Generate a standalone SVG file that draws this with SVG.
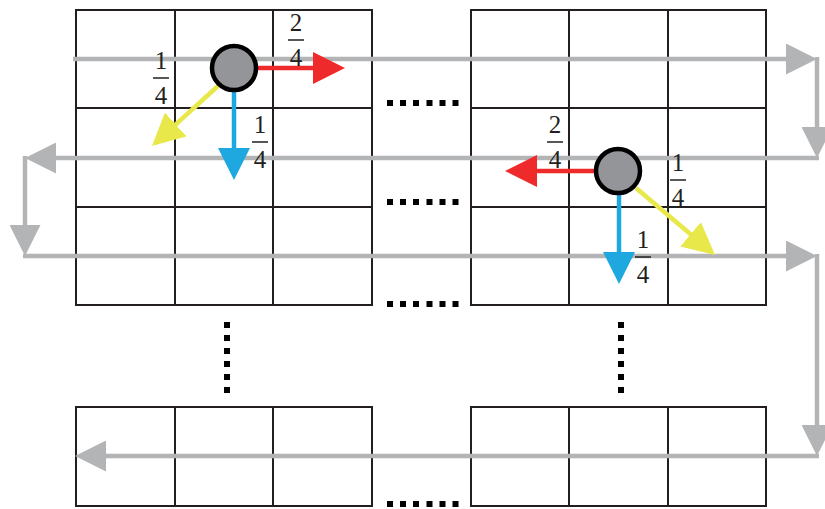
<svg xmlns="http://www.w3.org/2000/svg" width="825" height="509" viewBox="0 0 825 509">
<style>
.grid{fill:none;stroke:#231f20;stroke-width:2}
.gray{fill:none;stroke:#b3b4b6;stroke-width:4.5;marker-end:url(#ag)}
.red{stroke:#ee2a2a;stroke-width:4.5;marker-end:url(#ar)}
.blue{stroke:#1ea8df;stroke-width:4.5;marker-end:url(#ab)}
.yel{stroke:#e8e84a;stroke-width:4.5;marker-end:url(#ay)}
.node{fill:#949599;stroke:#000;stroke-width:4.5}
.dot{fill:#000}
.num{font-family:"Liberation Serif","Times New Roman",serif;font-size:25px;fill:#231f20;text-anchor:middle}
.bar{stroke:#231f20;stroke-width:1.5}
</style>
<defs>
<marker id="ag" viewBox="0 0 31 31" refX="23" refY="15.5" markerWidth="31" markerHeight="31" markerUnits="userSpaceOnUse" orient="auto"><path d="M0,0 L31,15.5 L0,31 z" fill="#b3b4b6"/></marker>
<marker id="ar" viewBox="0 0 32 32" refX="24" refY="16" markerWidth="32" markerHeight="32" markerUnits="userSpaceOnUse" orient="auto"><path d="M0,0 L32,16 L0,32 z" fill="#ee2a2a"/></marker>
<marker id="ab" viewBox="0 0 32 32" refX="24" refY="16" markerWidth="32" markerHeight="32" markerUnits="userSpaceOnUse" orient="auto"><path d="M0,0 L32,16 L0,32 z" fill="#1ea8df"/></marker>
<marker id="ay" viewBox="0 0 32 32" refX="24" refY="16" markerWidth="32" markerHeight="32" markerUnits="userSpaceOnUse" orient="auto"><path d="M0,0 L32,16 L0,32 z" fill="#e8e84a"/></marker>
</defs>
<g id="grid-top-left" class="grid">
<rect x="76" y="10" width="296" height="295"/>
<path d="M175,10 V305 M273,10 V305 M76,108 H372 M76,207 H372"/>
</g>
<g id="grid-top-right" class="grid">
<rect x="471" y="10" width="295" height="295"/>
<path d="M569,10 V305 M668,10 V305 M471,108 H766 M471,207 H766"/>
</g>
<g id="grid-bottom-left" class="grid">
<rect x="76" y="407" width="296" height="99"/>
<path d="M175,407 V506 M273,407 V506"/>
</g>
<g id="grid-bottom-right" class="grid">
<rect x="471" y="407" width="295" height="99"/>
<path d="M569,407 V506 M668,407 V506"/>
</g>
<g id="dots" class="dot">
<g id="dots-row1"><rect x="387" y="100" width="6" height="6"/><rect x="400" y="100" width="6" height="6"/><rect x="413" y="100" width="6" height="6"/><rect x="426.5" y="100" width="6" height="6"/><rect x="439.5" y="100" width="6" height="6"/><rect x="452.5" y="100" width="6" height="6"/></g>
<g id="dots-row2"><rect x="387" y="199" width="6" height="6"/><rect x="400" y="199" width="6" height="6"/><rect x="413" y="199" width="6" height="6"/><rect x="426.5" y="199" width="6" height="6"/><rect x="439.5" y="199" width="6" height="6"/><rect x="452.5" y="199" width="6" height="6"/></g>
<g id="dots-row3"><rect x="387" y="301" width="6" height="6"/><rect x="400" y="301" width="6" height="6"/><rect x="413" y="301" width="6" height="6"/><rect x="426.5" y="301" width="6" height="6"/><rect x="439.5" y="301" width="6" height="6"/><rect x="452.5" y="301" width="6" height="6"/></g>
<g id="dots-row4"><rect x="387" y="501" width="6" height="6"/><rect x="400" y="501" width="6" height="6"/><rect x="413" y="501" width="6" height="6"/><rect x="426.5" y="501" width="6" height="6"/><rect x="439.5" y="501" width="6" height="6"/><rect x="452.5" y="501" width="6" height="6"/></g>
<g id="dots-col-left"><rect x="224" y="322" width="6" height="6"/><rect x="224" y="335" width="6" height="6"/><rect x="224" y="348" width="6" height="6"/><rect x="224" y="361" width="6" height="6"/><rect x="224" y="374" width="6" height="6"/><rect x="224" y="387" width="6" height="6"/></g>
<g id="dots-col-right"><rect x="618" y="322" width="6" height="6"/><rect x="618" y="335" width="6" height="6"/><rect x="618" y="348" width="6" height="6"/><rect x="618" y="361" width="6" height="6"/><rect x="618" y="374" width="6" height="6"/><rect x="618" y="387" width="6" height="6"/></g>
</g>
<g id="connectors">
<g id="scan-path">
<path class="gray" d="M73,59 H809"/>
<path class="gray" d="M817,57 V150"/>
<path class="gray" d="M819,158 H33"/>
<path class="gray" d="M25,156 V248"/>
<path class="gray" d="M23,256 H809"/>
<path class="gray" d="M817,254 V448"/>
<path class="gray" d="M819,456 H83"/>
</g>
<g id="moves-1">
<path class="red" d="M256,68 H337"/>
<path class="blue" d="M234,90 V172"/>
<path class="yel" d="M218,86 L157.9,140.6"/>
</g>
<g id="moves-2">
<path class="red" d="M596,171 H513"/>
<path class="blue" d="M619,193 V276"/>
<path class="yel" d="M636,188 L708.9,249.8"/>
</g>
</g>
<g id="node-1"><circle class="node" cx="234" cy="68" r="22"/></g>
<g id="node-2"><circle class="node" cx="618" cy="171" r="22"/></g>
<g id="labels">
<g id="label-a"><text class="num" x="161" y="69">1</text><line class="bar" x1="153" y1="78" x2="169" y2="78"/><text class="num" x="161" y="104">4</text></g>
<g id="label-b"><text class="num" x="296" y="31">2</text><line class="bar" x1="288" y1="40" x2="304" y2="40"/><text class="num" x="296" y="66">4</text></g>
<g id="label-c"><text class="num" x="260" y="133">1</text><line class="bar" x1="252" y1="142" x2="268" y2="142"/><text class="num" x="260" y="168">4</text></g>
<g id="label-d"><text class="num" x="555" y="133">2</text><line class="bar" x1="547" y1="142" x2="563" y2="142"/><text class="num" x="555" y="168">4</text></g>
<g id="label-e"><text class="num" x="678" y="171">1</text><line class="bar" x1="670" y1="180" x2="686" y2="180"/><text class="num" x="678" y="206">4</text></g>
<g id="label-f"><text class="num" x="643" y="248">1</text><line class="bar" x1="635" y1="257" x2="651" y2="257"/><text class="num" x="643" y="283">4</text></g>
</g>
</svg>
